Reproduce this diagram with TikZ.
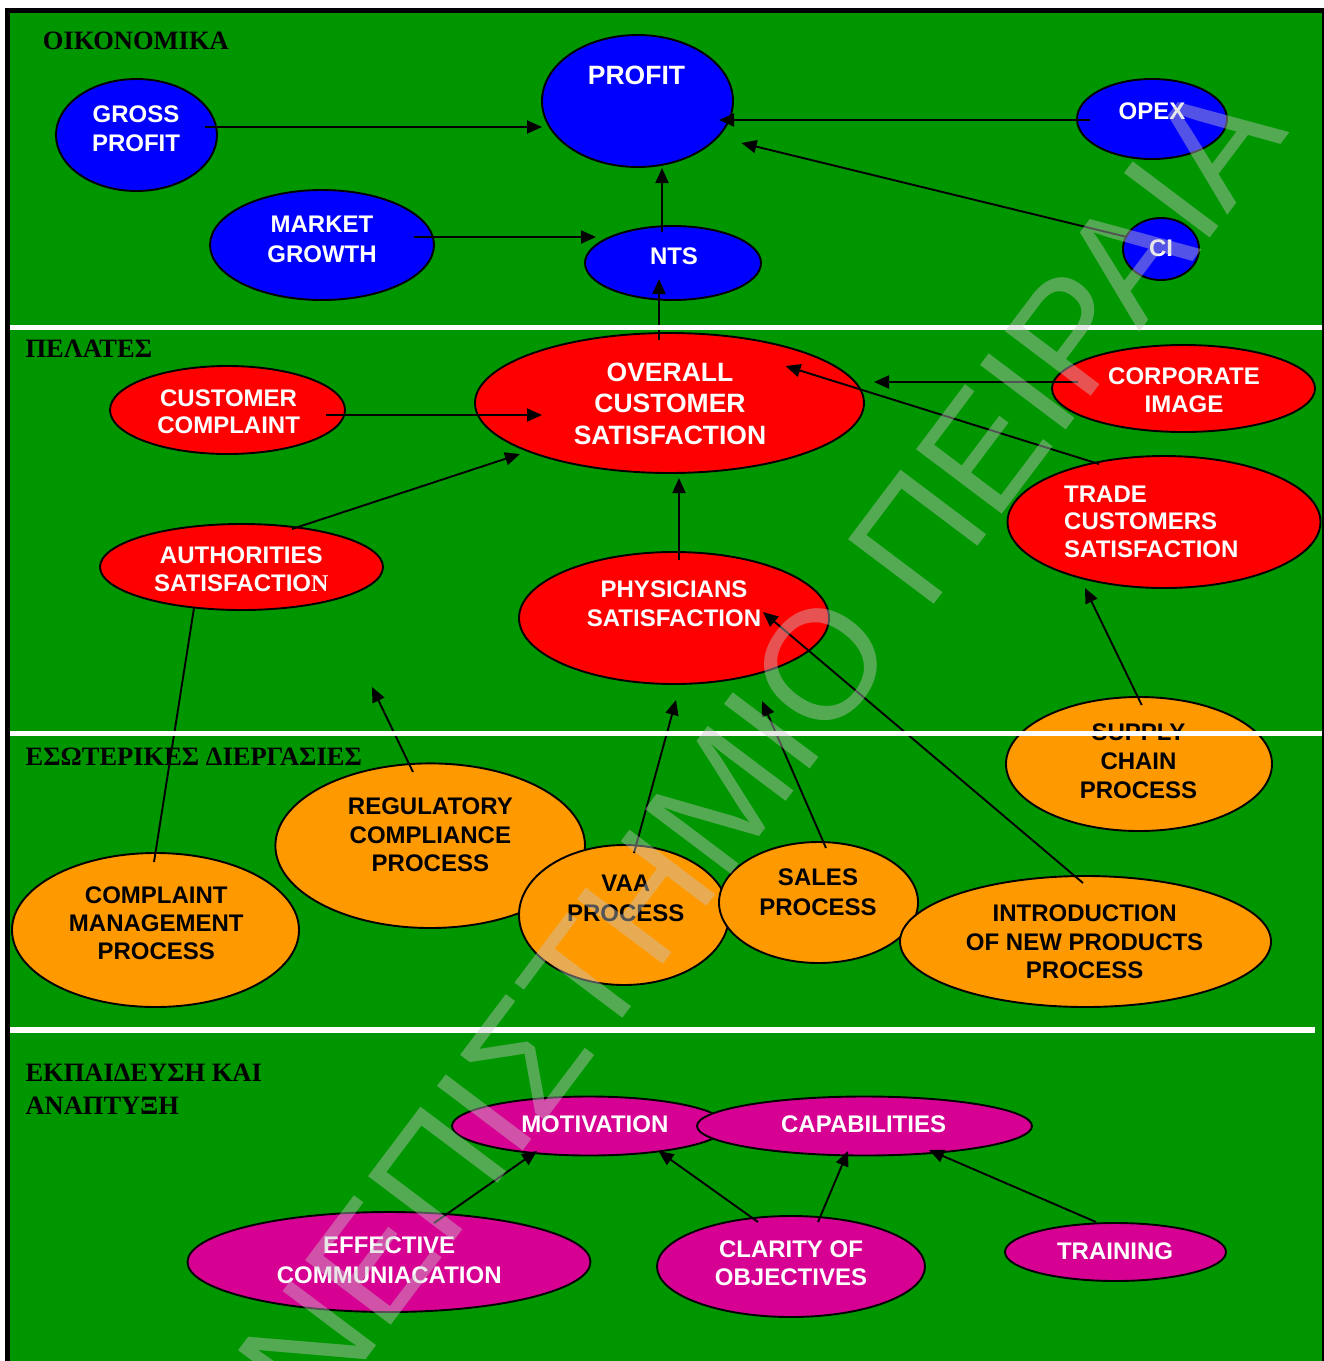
\documentclass[tikz,border=0pt]{standalone}
\usepackage{fontspec}
\setmainfont{Liberation Serif}
\newfontfamily\arial{Liberation Sans}
\usetikzlibrary{shapes.geometric,arrows.meta}
\definecolor{bggreen}{RGB}{0,150,0}
\definecolor{eblue}{RGB}{0,0,255}
\definecolor{ered}{RGB}{255,0,0}
\definecolor{eorange}{RGB}{255,153,0}
\definecolor{emag}{RGB}{214,0,147}
\definecolor{wmark}{RGB}{200,200,200}
\tikzset{
  oval/.style={ellipse, draw=black, line width=1.9pt, inner sep=0pt},
  lbl/.style={inner sep=0pt, align=center, font=\arial\bfseries\fontsize{24}{28.5}\selectfont},
  wlbl/.style={lbl, text=white},
  blbl/.style={lbl, text=black},
  sect/.style={inner sep=0pt, anchor=base west, font=\bfseries\fontsize{26.5}{32}\selectfont},
  arr/.style={line width=1.9pt, -{Triangle[length=15pt,width=13pt]}},
  plainline/.style={line width=1.9pt},
}
\newcommand{\ovalnode}[6]{\node[oval, fill=#6, minimum width=2*#4pt, minimum height=2*#5pt] (#1) at (#2,#3) {};}
\begin{document}
\begin{tikzpicture}[x=1pt,y=-1pt]
\useasboundingbox (0,0) rectangle (1324,1361);
\fill[white] (0,0) rectangle (1324,1361);
\fill[black] (5,8) rectangle (1324,1361);
\fill[bggreen] (10,13) rectangle (1322,1361);

% section labels
\node[sect] (l1) at (42.7,49.3) {ΟΙΚΟΝΟΜΙΚΑ};
\node[sect] (l2) at (25.4,357.3) {ΠΕΛΑΤΕΣ};
\node[sect] (l3) at (25.4,765) {ΕΣΩΤΕΡΙΚΕΣ ΔΙΕΡΓΑΣΙΕΣ};
\node[sect] (l4a) at (25.3,1081.7) {ΕΚΠΑΙΔΕΥΣΗ ΚΑΙ};
\node[sect] (l4b) at (25.3,1114) {ΑΝΑΠΤΥΞΗ};

% section 1
\ovalnode{gp}{136.5}{135}{80.5}{56}{eblue}
\node[wlbl] (gpt) at (136,128.9) {GROSS\\PROFIT};
\ovalnode{mg}{322}{245}{112}{55}{eblue}
\node[wlbl, font=\arial\bfseries\fontsize{24}{30}\selectfont] (mgt) at (322,239.4) {MARKET\\GROWTH};
\ovalnode{pf}{637.5}{101}{95.5}{66}{eblue}
\node[wlbl, font=\arial\bfseries\fontsize{26.5}{31}\selectfont] (pft) at (636.5,75.5) {PROFIT};
\ovalnode{nts}{673}{263}{88}{37}{eblue}
\node[wlbl] (ntst) at (674,256.7) {NTS};
\ovalnode{opex}{1152}{119}{75}{40}{eblue}
\node[wlbl] (opext) at (1152,111.3) {OPEX};
\ovalnode{ci}{1161}{249}{38}{31}{eblue}
\node[wlbl] (cit) at (1161,247.8) {CI};

% section 2
\ovalnode{ocs}{669.5}{403}{194.5}{70}{ered}
\node[wlbl, font=\arial\bfseries\fontsize{26.5}{31.2}\selectfont] (ocst) at (670,403.7) {OVERALL\\CUSTOMER\\SATISFACTION};
\ovalnode{cc}{227.5}{410}{117.5}{44}{ered}
\node[wlbl, font=\arial\bfseries\fontsize{24}{27}\selectfont] (cct) at (228.6,412) {CUSTOMER\\COMPLAINT};
\ovalnode{cim}{1183.5}{388.5}{131.5}{43.5}{ered}
\node[wlbl, font=\arial\bfseries\fontsize{24}{28}\selectfont] (cimt) at (1184,390.3) {CORPORATE\\IMAGE};
\ovalnode{auth}{241.5}{567}{141.5}{43}{ered}
\node[wlbl, font=\arial\bfseries\fontsize{24}{27.7}\selectfont] (autht) at (241.3,569.2) {AUTHORITIES\\SATISFACTIO{\rmfamily\bfseries N}};
\ovalnode{trade}{1164}{522}{156.5}{66}{ered}
\node[wlbl, align=left, anchor=west, font=\arial\bfseries\fontsize{24}{27.5}\selectfont] (tradet) at (1064,521.8) {TRADE\\CUSTOMERS\\SATISFACTION};
\ovalnode{phys}{674}{618}{155}{66}{ered}
\node[wlbl, font=\arial\bfseries\fontsize{24}{29}\selectfont] (physt) at (674,603.7) {PHYSICIANS\\SATISFACTION};

% section 3
\ovalnode{supply}{1139}{764}{133}{67}{eorange}
\node[blbl, font=\arial\bfseries\fontsize{24}{29}\selectfont] (supplyt) at (1138.5,761.4) {SUPPLY\\CHAIN\\PROCESS};
\ovalnode{cmp}{155.5}{930}{143.5}{77}{eorange}
\node[blbl, font=\arial\bfseries\fontsize{24}{28}\selectfont] (cmpt) at (156.3,923) {COMPLAINT\\MANAGEMENT\\PROCESS};
\ovalnode{reg}{430.2}{845.7}{154.8}{82.3}{eorange}
\node[blbl, font=\arial\bfseries\fontsize{24}{28.4}\selectfont] (regt) at (430.4,834.8) {REGULATORY\\COMPLIANCE\\PROCESS};
\ovalnode{vaa}{624}{915}{105}{70}{eorange}
\node[blbl, font=\arial\bfseries\fontsize{24}{29.4}\selectfont] (vaat) at (625.8,898.3) {VAA\\PROCESS};
\ovalnode{sales}{818.5}{902.5}{99.5}{60.5}{eorange}
\node[blbl, font=\arial\bfseries\fontsize{24}{30.3}\selectfont] (salest) at (818,892.2) {SALES\\PROCESS};
\ovalnode{intro}{1085.5}{941.5}{185.5}{65.5}{eorange}
\node[blbl, font=\arial\bfseries\fontsize{24}{28.5}\selectfont] (introt) at (1084.6,942) {INTRODUCTION\\OF NEW PRODUCTS\\PROCESS};

% section 4
\ovalnode{mot}{589}{1126}{137}{29.5}{emag}
\node[wlbl] (mott) at (594.8,1124.7) {MOTIVATION};
\ovalnode{cap}{864.5}{1126}{167.5}{29.5}{emag}
\node[wlbl] (capt) at (863.6,1124.7) {CAPABILITIES};
\ovalnode{eff}{389}{1262}{201.5}{50}{emag}
\node[wlbl, font=\arial\bfseries\fontsize{24}{30}\selectfont] (efft) at (389.2,1260) {EFFECTIVE\\COMMUNIACATION};
\ovalnode{clar}{791}{1266.5}{134}{50.5}{emag}
\node[wlbl, font=\arial\bfseries\fontsize{24}{28.6}\selectfont] (clart) at (791,1263.4) {CLARITY OF\\OBJECTIVES};
\ovalnode{train}{1115.5}{1252}{110.5}{29}{emag}
\node[wlbl] (traint) at (1115,1251) {TRAINING};

% connectors
\draw[arr] ([shift={(68.5,-8)}]gp.center) -- ([shift={(-95.5,26)}]pf.center);
\draw[arr] ([shift={(92,-8)}]mg.center) -- ([shift={(-77,-26)}]nts.center);
\draw[arr] ([shift={(-11,-31)}]nts.center) -- ([shift={(24.5,67)}]pf.center);
\draw[arr] ([shift={(-62,1)}]opex.center) -- ([shift={(81.5,19)}]pf.center);
\draw[arr] ([shift={(-34,-12)}]ci.center) -- ([shift={(104,42)}]pf.center);
\draw[arr] ([shift={(-10.5,-63)}]ocs.center) -- ([shift={(-14,16)}]nts.center);
\draw[arr] ([shift={(98.5,5)}]cc.center) -- ([shift={(-127.5,12)}]ocs.center);
\draw[arr] ([shift={(-105.5,-6.5)}]cim.center) -- ([shift={(204.5,-21)}]ocs.center);
\draw[arr] ([shift={(-65,-58)}]trade.center) -- ([shift={(116,-37)}]ocs.center);
\draw[arr] ([shift={(50.5,-38)}]auth.center) -- ([shift={(-149.5,51)}]ocs.center);
\draw[arr] ([shift={(5,-58)}]phys.center) -- ([shift={(9.5,75)}]ocs.center);
\draw[arr] ([shift={(2.7,-59)}]supply.center) -- ([shift={(-79,66)}]trade.center);
\draw[plainline] ([shift={(-47.5,41)}]auth.center) -- ([shift={(-1.5,-68)}]cmp.center);
\coordinate (regtip) at (372,687);
\draw[arr] ([shift={(-17.2,-73.7)}]reg.center) -- (regtip);
\draw[arr] ([shift={(10,-62)}]vaa.center) -- ([shift={(2,82)}]phys.center);
\draw[arr] ([shift={(7.5,-54.5)}]sales.center) -- ([shift={(88,83)}]phys.center);
\draw[arr] ([shift={(-2.5,-58.5)}]intro.center) -- ([shift={(89,-6)}]phys.center);
\draw[arr] ([shift={(45,-39)}]eff.center) -- ([shift={(-52,25)}]mot.center);
\draw[arr] ([shift={(-33,-44.5)}]clar.center) -- ([shift={(69.5,25)}]mot.center);
\draw[arr] ([shift={(27,-44.5)}]clar.center) -- ([shift={(-16.5,25)}]cap.center);
\draw[arr] ([shift={(-19.5,-30)}]train.center) -- ([shift={(64.5,24)}]cap.center);

% separators
\fill[white] (10,324.5) rectangle (1322,329.5);
\fill[white] (10,731) rectangle (1322,736);
\fill[white] (10,1027) rectangle (1315,1033);

% watermark
\node[font=\arial\fontsize{156}{156}\selectfont, text=wmark, text opacity=0.42, rotate=53, anchor=base, inner sep=0pt] (wm) at (738,865) {ΠΑΝΕΠΙΣΤΗΜΙΟ ΠΕΙΡΑΙΑ};
\end{tikzpicture}
\end{document}
